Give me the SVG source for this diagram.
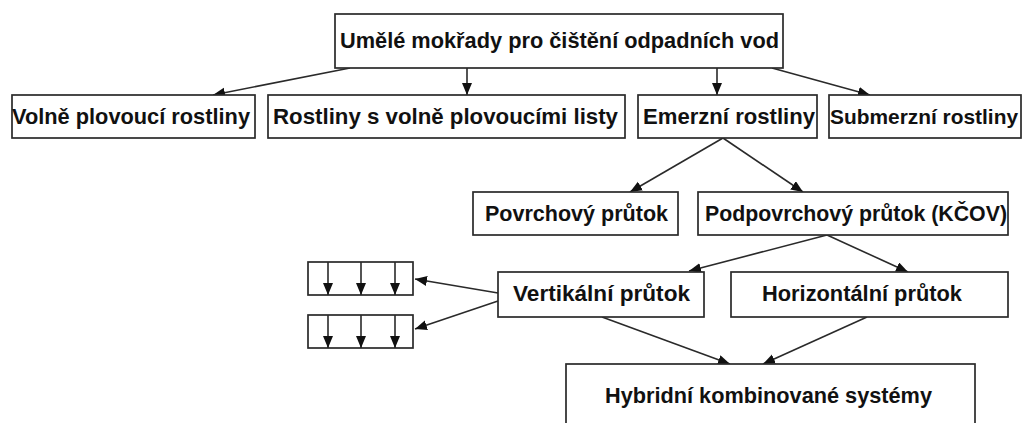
<svg xmlns="http://www.w3.org/2000/svg" width="1024" height="423" viewBox="0 0 1024 423">
<style>
.box{fill:#fff;stroke:#2a2a2a;stroke-width:1.7}
.t{font-family:"Liberation Sans",Arial,sans-serif;font-weight:bold;font-size:22.5px;fill:#111}
.c{stroke:#2a2a2a;stroke-width:1.6;fill:none}
</style>
<defs>
<marker id="ah" markerUnits="userSpaceOnUse" markerWidth="13" markerHeight="11" refX="12" refY="5" orient="auto">
<path d="M0,0 L12,5 L0,10 z" fill="#111"/>
</marker>
</defs>
<rect width="1024" height="423" fill="#fff"/>
<g id="connectors">
<line class="c" x1="350" y1="68" x2="213" y2="95" marker-end="url(#ah)"/>
<line class="c" x1="467" y1="68" x2="467" y2="95" marker-end="url(#ah)"/>
<line class="c" x1="717" y1="68" x2="717" y2="95" marker-end="url(#ah)"/>
<line class="c" x1="772" y1="68" x2="870" y2="95" marker-end="url(#ah)"/>
<line class="c" x1="723" y1="138" x2="630" y2="192" marker-end="url(#ah)"/>
<line class="c" x1="723" y1="138" x2="803" y2="192" marker-end="url(#ah)"/>
<line class="c" x1="827" y1="235" x2="689" y2="271" marker-end="url(#ah)"/>
<line class="c" x1="827" y1="235" x2="908" y2="272" marker-end="url(#ah)"/>
<line class="c" x1="602" y1="317" x2="730" y2="364" marker-end="url(#ah)"/>
<line class="c" x1="867" y1="317" x2="763" y2="364" marker-end="url(#ah)"/>
<line class="c" x1="498" y1="293" x2="415" y2="279" marker-end="url(#ah)"/>
<line class="c" x1="498" y1="301" x2="415" y2="329" marker-end="url(#ah)"/>
</g>
<g id="n-top">
<rect class="box" x="335" y="14" width="448" height="54"/>
<text class="t" x="340" y="48" textLength="439" lengthAdjust="spacingAndGlyphs">Umělé mokřady pro čištění odpadních vod</text>
</g>
<g id="n-volne">
<rect class="box" x="12" y="95" width="243" height="43"/>
<text class="t" x="12" y="124" textLength="238" lengthAdjust="spacingAndGlyphs">Volně plovoucí rostliny</text>
</g>
<g id="n-listy">
<rect class="box" x="268" y="95" width="357" height="43"/>
<text class="t" x="273" y="124" textLength="345" lengthAdjust="spacingAndGlyphs">Rostliny s volně plovoucími listy</text>
</g>
<g id="n-emerzni">
<rect class="box" x="638" y="95" width="179" height="43"/>
<text class="t" x="643" y="124" textLength="172" lengthAdjust="spacingAndGlyphs">Emerzní rostliny</text>
</g>
<g id="n-submerzni">
<rect class="box" x="829" y="95" width="192" height="43"/>
<text class="t" x="830" y="124" style="font-size:20.8px" textLength="188" lengthAdjust="spacingAndGlyphs">Submerzní rostliny</text>
</g>
<g id="n-povrch">
<rect class="box" x="473" y="192" width="205" height="43"/>
<text class="t" x="485" y="221" textLength="183" lengthAdjust="spacingAndGlyphs">Povrchový průtok</text>
</g>
<g id="n-podpovrch">
<rect class="box" x="698" y="192" width="310" height="43"/>
<text class="t" x="705" y="221" textLength="302" lengthAdjust="spacingAndGlyphs">Podpovrchový průtok (KČOV)</text>
</g>
<g id="n-vertikal">
<rect class="box" x="498" y="272" width="206" height="45"/>
<text class="t" x="513" y="301" textLength="177" lengthAdjust="spacingAndGlyphs">Vertikální průtok</text>
</g>
<g id="n-horizontal">
<rect class="box" x="731" y="272" width="277" height="45"/>
<text class="t" x="762" y="301" textLength="200" lengthAdjust="spacingAndGlyphs">Horizontální průtok</text>
</g>
<g id="n-hybrid">
<rect class="box" x="566" y="364" width="409" height="70"/>
<text class="t" x="605" y="403" textLength="327" lengthAdjust="spacingAndGlyphs">Hybridní kombinované systémy</text>
</g>
<g id="n-flow1">
<rect class="box" x="308" y="262" width="105" height="33"/>
<line class="c" x1="328" y1="262" x2="328" y2="295" marker-end="url(#ah)"/>
<line class="c" x1="361" y1="262" x2="361" y2="295" marker-end="url(#ah)"/>
<line class="c" x1="395" y1="262" x2="395" y2="295" marker-end="url(#ah)"/>
</g>
<g id="n-flow2">
<rect class="box" x="308" y="315" width="105" height="33"/>
<line class="c" x1="328" y1="315" x2="328" y2="348" marker-end="url(#ah)"/>
<line class="c" x1="361" y1="315" x2="361" y2="348" marker-end="url(#ah)"/>
<line class="c" x1="395" y1="315" x2="395" y2="348" marker-end="url(#ah)"/>
</g>
</svg>
